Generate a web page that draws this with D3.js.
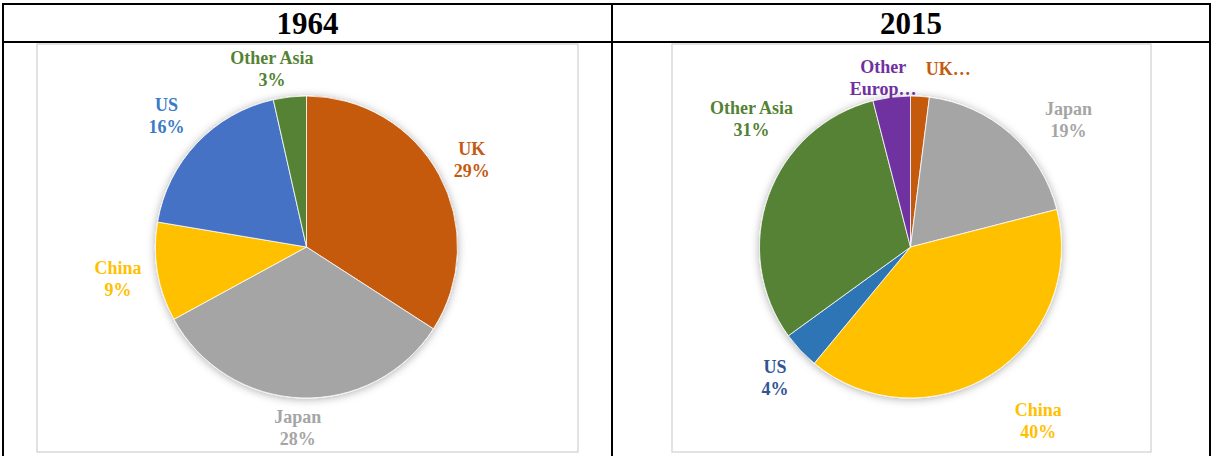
<!DOCTYPE html>
<html>
<head>
<meta charset="utf-8">
<script src="https://cdn.jsdelivr.net/npm/d3@7"></script>
<style>
  html, body { margin: 0; padding: 0; background: #fff; }
  svg { display: block; }
  text { font-family: "Liberation Serif", "Times New Roman", serif; font-weight: bold; }
</style>
</head>
<body>
<svg id="chart" width="1212" height="456"></svg>
<script>
// Export destinations by share (%), two snapshots
const years = ["1964", "2015"];
const categories = ["UK", "Japan", "China", "US", "Other Asia", "Other Europe"];
const shares1964 = [29, 28, 9, 16, 3, 0];
const shares2015 = [2, 19, 40, 4, 31, 4];

// Slice and label colours per snapshot
const sliceColors = {
  "1964": { "UK": "#C55A11", "Japan": "#A5A5A5", "China": "#FFC000", "US": "#4472C4", "Other Asia": "#548235", "Other Europe": "#7030A0" },
  "2015": { "UK": "#C55A11", "Japan": "#A5A5A5", "China": "#FFC000", "US": "#2E75B6", "Other Asia": "#548235", "Other Europe": "#7030A0" }
};
const labelColors = {
  "1964": { "UK": "#C55A11", "Japan": "#A5A5A5", "China": "#FFC000", "US": "#3A7BC8", "Other Asia": "#548235", "Other Europe": "#7030A0" },
  "2015": { "UK": "#C55A11", "Japan": "#A5A5A5", "China": "#FFC000", "US": "#2F5597", "Other Asia": "#548235", "Other Europe": "#7030A0" }
};

// Labels that do not fit are cut short with an ellipsis
const clippedLabels = {
  "2015": { "UK": ["UK…"], "Other Europe": ["Other", "Europ…"] }
};

// Best-fit nudges for the outside labels
const labelNudge = {
  "1964": { "UK": [2, 2], "Japan": [-2, -5], "China": [-5, 1], "US": [-5, -3], "Other Asia": [-14, 7] },
  "2015": { "UK": [26, 7], "Other Europe": [-4, 15], "Japan": [35, 12], "China": [28, 17], "US": [0, 4], "Other Asia": [16, -65] }
};

const svg = d3.select("#chart");
const W = 1212;

// Drop shadow around each pie
const defs = svg.append("defs");
const f = defs.append("filter").attr("id", "pieShadow")
  .attr("x", "-20%").attr("y", "-20%").attr("width", "140%").attr("height", "140%");
f.append("feDropShadow").attr("dx", 0).attr("dy", 1).attr("stdDeviation", 4)
  .attr("flood-color", "#000").attr("flood-opacity", 0.32);

// Table layout
const tableLeft = 3, tableRight = 1210, tableTop = 4, headerBottom = 42, divider = 612;
const cells = [
  { year: years[0], values: shares1964, x0: tableLeft, x1: divider, box: [37, 578] },
  { year: years[1], values: shares2015, x0: divider, x1: tableRight, box: [672, 1151] }
];
const boxTop = 44, boxBottom = 452;
const radius = 151, pieCy = 247, labelDist = 186;

const pie = d3.pie().sort(null).value(d => d.value);
const arc = d3.arc().innerRadius(0).outerRadius(radius);

cells.forEach(cell => {
  // header text
  svg.append("text")
    .attr("x", (cell.x0 + cell.x1) / 2)
    .attr("y", 34)
    .attr("text-anchor", "middle")
    .attr("font-size", 31)
    .attr("fill", "#000")
    .text(cell.year);

  // chart area frame
  svg.append("rect")
    .attr("x", cell.box[0]).attr("y", boxTop)
    .attr("width", cell.box[1] - cell.box[0]).attr("height", boxBottom - boxTop)
    .attr("fill", "#fff").attr("stroke", "#D9D9D9").attr("stroke-width", 1.5);

  const cx = (cell.box[0] + cell.box[1]) / 2 - 1;
  const data = categories.map((c, i) => ({ name: c, value: cell.values[i] })).filter(d => d.value > 0);
  const arcs = pie(data);

  const g = svg.append("g").attr("transform", `translate(${cx},${pieCy})`);
  g.append("g").attr("filter", "url(#pieShadow)")
    .selectAll("path").data(arcs).join("path")
    .attr("d", arc)
    .attr("fill", d => sliceColors[cell.year][d.data.name])
    .attr("stroke", "#fff").attr("stroke-width", 0.8);

  // outside data labels: name and share
  const lineGap = 22, fs = 18;
  arcs.forEach(a => {
    const mid = (a.startAngle + a.endAngle) / 2;
    const nudge = (labelNudge[cell.year] || {})[a.data.name] || [0, 0];
    const lx = labelDist * Math.sin(mid) + nudge[0];
    const ly = -labelDist * Math.cos(mid) + nudge[1];
    const clip = (clippedLabels[cell.year] || {})[a.data.name];
    const lines = clip || [a.data.name, `${a.data.value}%`];
    const n = lines.length;
    const t = g.append("text")
      .attr("text-anchor", "middle")
      .attr("font-size", fs)
      .attr("fill", labelColors[cell.year][a.data.name]);
    lines.forEach((s, i) => {
      t.append("tspan")
        .attr("x", lx)
        .attr("y", ly + (i - (n - 1) / 2) * lineGap + fs * 0.34)
        .text(s);
    });
  });
});

// table rules
const rule = (x1, y1, x2, y2) => svg.append("line")
  .attr("x1", x1).attr("y1", y1).attr("x2", x2).attr("y2", y2)
  .attr("stroke", "#000").attr("stroke-width", 2);
rule(tableLeft - 1, tableTop, tableRight + 1, tableTop);
rule(tableLeft - 1, headerBottom, tableRight + 1, headerBottom);
rule(tableLeft, tableTop, tableLeft, 456);
rule(divider, tableTop, divider, 456);
rule(tableRight, tableTop, tableRight, 456);
</script>
</body>
</html>
